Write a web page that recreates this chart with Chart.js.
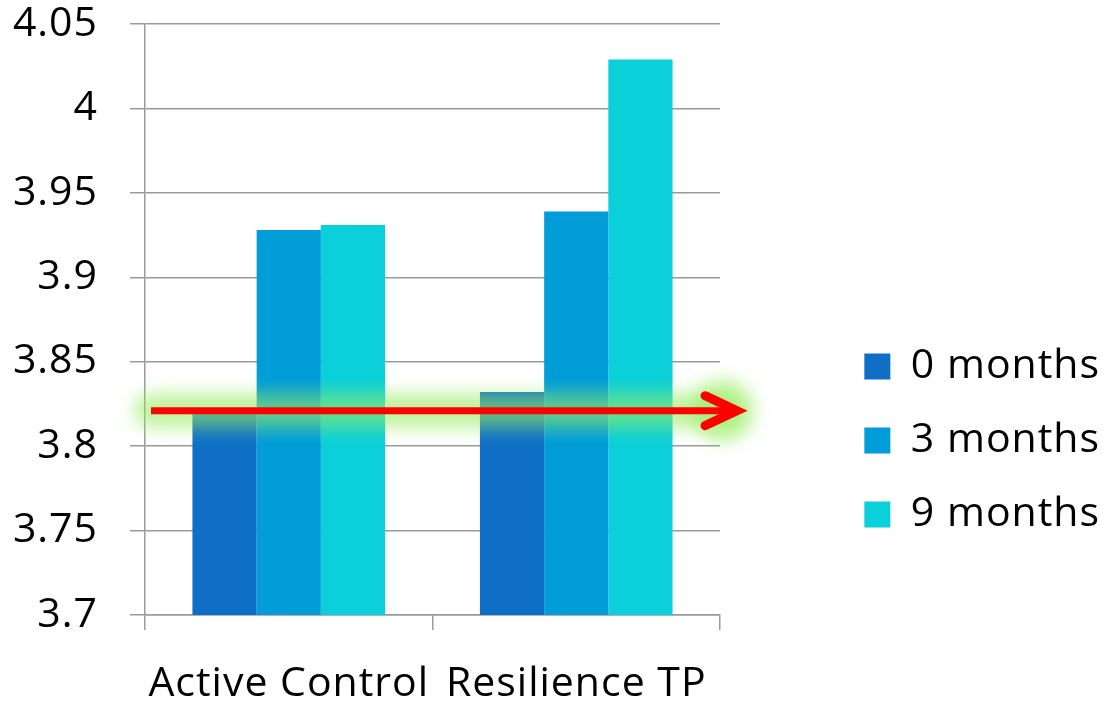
<!DOCTYPE html>
<html>
<head>
<meta charset="utf-8">
<script src="https://cdn.jsdelivr.net/npm/chart.js@4/dist/chart.umd.min.js"></script>
<style>
  html, body { margin: 0; padding: 0; background: #ffffff; }
  #wrap { width: 1103px; height: 701px; }
</style>
</head>
<body>
<div id="wrap"><canvas id="c" width="1103" height="701"></canvas></div>
<script>
// ---- data ----
const categories = ['Active Control', 'Resilience TP'];
const seriesLabels = ['0 months', '3 months', '9 months'];
const months0 = [3.820, 3.832];
const months3 = [3.928, 3.939];
const months9 = [3.931, 4.029];
const yMin = 3.7;
const yMax = 4.05;
const yStep = 0.05;
const arrowValue = 3.821;

// ---- styles ----
const colors = ['#0F6FC6', '#009DD9', '#0BD0D9'];
const FONT = '"Open Sans", "Noto Sans", sans-serif';
const AXIS_GRAY = '#9a9a9a';
const PLOT_LEFT = 145, PLOT_RIGHT = 720, PLOT_BOTTOM = 615;
const PAD_RIGHT = -7;

const spacingPlugin = {
  id: 'spacingPlugin',
  beforeLayout(chart) { chart.ctx.letterSpacing = '1px'; },
  beforeDraw(chart) { chart.ctx.letterSpacing = '1px'; }
};

const arrowPlugin = {
  id: 'arrowPlugin',
  afterDatasetsDraw(chart) {
    const { ctx, chartArea, scales } = chart;
    const y = scales.y.getPixelForValue(arrowValue);
    const x0 = chartArea.left + 6;
    const x1 = chartArea.right + 17;
    // soft green glow
    ctx.save();
    ctx.filter = 'blur(9px)';
    ctx.strokeStyle = 'rgba(150,236,95,0.62)';
    ctx.lineWidth = 34;
    ctx.lineCap = 'round';
    ctx.beginPath();
    ctx.moveTo(x0, y);
    ctx.lineTo(x1 - 12, y);
    ctx.stroke();
    ctx.fillStyle = 'rgba(150,236,95,0.6)';
    ctx.beginPath();
    ctx.arc(x1 - 14, y, 31, 0, Math.PI * 2);
    ctx.fill();
    ctx.restore();
    // red arrow
    ctx.save();
    ctx.strokeStyle = '#ff0000';
    ctx.lineWidth = 7;
    ctx.lineCap = 'butt';
    ctx.beginPath();
    ctx.moveTo(x0, y);
    ctx.lineTo(x1 - 4, y);
    ctx.stroke();
    ctx.lineWidth = 9;
    ctx.lineCap = 'round';
    ctx.lineJoin = 'miter';
    ctx.beginPath();
    ctx.moveTo(x1 - 32, y - 15);
    ctx.lineTo(x1, y);
    ctx.lineTo(x1 - 32, y + 15);
    ctx.stroke();
    ctx.restore();
  }
};

const datasets = [months0, months3, months9].map((d, i) => ({
  label: seriesLabels[i],
  data: d,
  backgroundColor: colors[i],
  borderWidth: 0,
  categoryPercentage: 0.67,
  barPercentage: 1.0
}));

new Chart(document.getElementById('c'), {
  type: 'bar',
  data: { labels: categories, datasets },
  options: {
    responsive: false,
    animation: false,
    events: [],
    layout: { padding: { top: 0, right: PAD_RIGHT, bottom: 0, left: 0 } },
    plugins: {
      tooltip: { enabled: false },
      legend: {
        position: 'right',
        align: 'start',
        maxWidth: 400,
        title: { display: true, text: '', padding: { top: 301, bottom: 0 }, font: { size: 10 } },
        labels: {
          boxWidth: 26,
          boxHeight: 26,
          padding: 33,
          color: '#000000',
          font: { family: FONT, size: 41 }
        }
      }
    },
    scales: {
      x: {
        grid: {
          display: true,
          drawOnChartArea: false,
          drawTicks: true,
          tickLength: 15,
          color: AXIS_GRAY,
          lineWidth: 1.5,
          offset: true
        },
        border: { display: true, color: AXIS_GRAY, width: 1.5 },
        ticks: {
          color: '#000000',
          padding: 30,
          maxRotation: 0,
          font: { family: FONT, size: 41 }
        },
        afterFit(scale) { scale.height = 701 - PLOT_BOTTOM; }
      },
      y: {
        min: yMin,
        max: yMax,
        grid: {
          color: AXIS_GRAY,
          lineWidth: 1.5,
          drawTicks: true,
          tickLength: 15
        },
        border: { display: true, color: AXIS_GRAY, width: 1.5 },
        ticks: {
          stepSize: yStep,
          color: '#000000',
          padding: 32,
          font: { family: FONT, size: 41 },
          callback: (v) => String(+(+v).toFixed(2))
        },
        afterFit(scale) {
          scale.width = PLOT_LEFT;
          scale.paddingTop = 24;
          scale.paddingBottom = 24;
        }
      },
      gap: {
        type: 'linear',
        position: 'right',
        display: true,
        min: 0,
        max: 1,
        grid: { display: false, drawTicks: false },
        border: { display: false },
        ticks: { display: false },
        afterFit(scale) {
          const ch = scale.chart;
          const lw = ch.legend ? ch.legend.width : 270;
          scale.width = Math.max(0, ch.width - PAD_RIGHT - lw - PLOT_RIGHT);
        }
      }
    }
  },
  plugins: [spacingPlugin, arrowPlugin]
});
</script>
</body>
</html>
